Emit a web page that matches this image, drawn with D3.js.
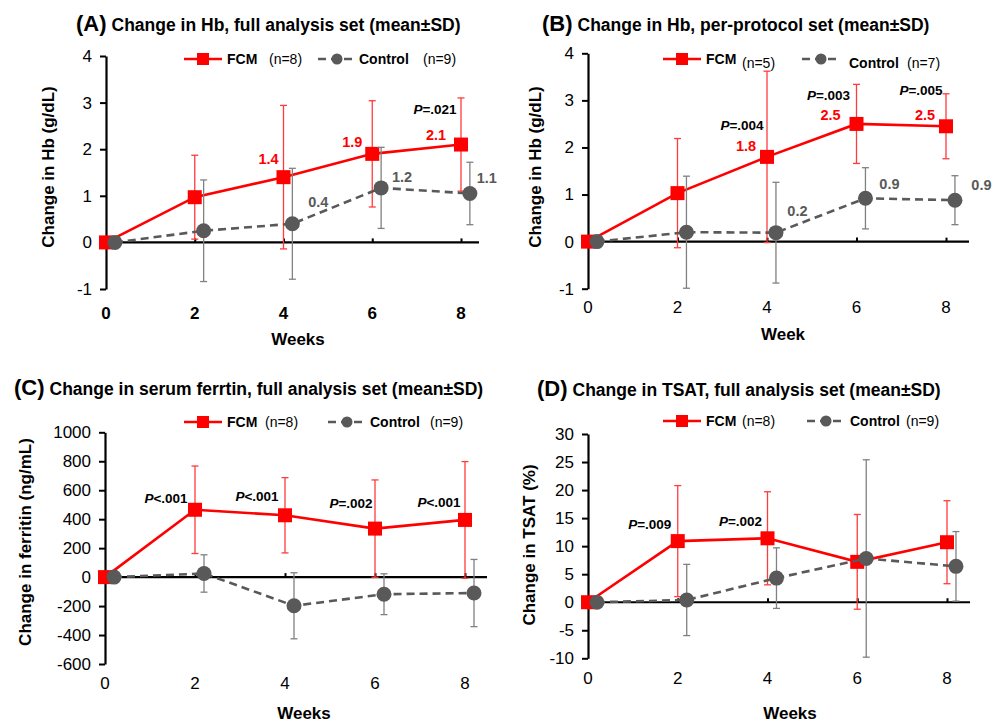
<!DOCTYPE html>
<html><head><meta charset="utf-8">
<script src="https://cdn.jsdelivr.net/npm/d3@7"></script>
<style>
html,body{margin:0;padding:0;background:#fff;}
svg{display:block;font-family:"Liberation Sans",Arial,sans-serif;}
</style></head>
<body>
<svg id="chart" width="997" height="724"></svg>
<script>
// ---------- DATA ----------
const weeks = [0, 2, 4, 6, 8];

// Panel A: Hb, full analysis set
const hbFasFcm     = [0, 0.97, 1.4, 1.9, 2.1];
const hbFasFcmSd   = [0, 0.90, 1.54, 1.14, 1.0];
const hbFasCtl     = [0, 0.25, 0.4, 1.17, 1.05];
const hbFasCtlSd   = [0, 1.09, 1.19, 0.87, 0.67];

// Panel B: Hb, per-protocol set
const hbPpFcm      = [0, 1.03, 1.8, 2.5, 2.45];
const hbPpFcmSd    = [0, 1.16, 1.82, 0.84, 0.69];
const hbPpCtl      = [0, 0.2, 0.19, 0.92, 0.88];
const hbPpCtlSd    = [0, 1.19, 1.07, 0.65, 0.52];

// Panel C: serum ferritin
const ferFcm       = [0, 465, 427, 335, 395];
const ferFcmSd     = [0, 302, 260, 336, 403];
const ferCtl       = [0, 25, -198, -118, -110];
const ferCtlSd     = [0, 129, 228, 141, 232];

// Panel D: TSAT
const tsatFcm      = [0, 10.9, 11.4, 7.2, 10.7];
const tsatFcmSd    = [0, 9.9, 8.3, 8.45, 7.4];
const tsatCtl      = [0, 0.4, 4.3, 7.8, 6.4];
const tsatCtlSd    = [0, 6.35, 5.4, 17.6, 6.2];

// y tick values
const ticksHb   = [-1, 0, 1, 2, 3, 4];
const ticksFer  = [-600, -400, -200, 0, 200, 400, 600, 800, 1000];
const ticksTsat = [-10, -5, 0, 5, 10, 15, 20, 25, 30];

// annotations
const pA = [{w: 8, t: ".021", op: "="}];
const pB = [{w: 4, t: ".004", op: "="}, {w: 6, t: ".003", op: "="}, {w: 8, t: ".005", op: "="}];
const pC = [{w: 2, t: ".001", op: "<"}, {w: 4, t: ".001", op: "<"}, {w: 6, t: ".002", op: "="}, {w: 8, t: ".001", op: "<"}];
const pD = [{w: 2, t: ".009", op: "="}, {w: 4, t: ".002", op: "="}];

const valLabA_fcm = ["1.4", "1.9", "2.1"];   // weeks 4,6,8
const valLabA_ctl = ["0.4", "1.2", "1.1"];
const valLabB_fcm = ["1.8", "2.5", "2.5"];
const valLabB_ctl = ["0.2", "0.9", "0.9"];

// ---------- LAYOUT ----------
const RED = "#ff0000", GRAY = "#595959", GRAYBAR = "#808080", REDBAR = "#ff3b3b";
const svg = d3.select("#chart");

const panels = [
  {id: "A", title: "Change in Hb, full analysis set (mean\u00b1SD)", tx: 76, ty: 31,
   x0: 106, x1: 461, zeroEnd: 479, yTop: 56, yBot: 289, dom: [-1, 4], ticks: ticksHb,
   fcm: hbFasFcm, fcmSd: hbFasFcmSd, ctl: hbFasCtl, ctlSd: hbFasCtlSd,
   ytitle: "Change in Hb (g/dL)", ytx: 48, yty: 167, xtitle: "Weeks", xtx: 298, xty: 345,
   xtickY: 319, xtickBold: true, leg: {y: 59, x: 184, fn: "(n=8)", cx: 318, cn: "(n=9)", fnx: 269, ctx: 359, cnx: 423, cdy: 0}},
  {id: "B", title: "Change in Hb, per-protocol set (mean\u00b1SD)", tx: 542, ty: 31,
   x0: 588, x1: 946, zeroEnd: 969, yTop: 53.3, yBot: 288.7, dom: [-1, 4], ticks: ticksHb,
   fcm: hbPpFcm, fcmSd: hbPpFcmSd, ctl: hbPpCtl, ctlSd: hbPpCtlSd,
   ytitle: "Change in Hb (g/dL)", ytx: 535, yty: 167, xtitle: "Week", xtx: 783, xty: 340,
   xtickY: 313, xtickBold: false, leg: {y: 59, x: 663, fn: "(n=5)", cx: 802, cn: "(n=7)", fnx: 742, ctx: 849, cnx: 907, cdy: 4}},
  {id: "C", title: "Change in serum ferrtin, full analysis set (mean\u00b1SD)", tx: 14, ty: 395,
   x0: 105, x1: 465, zeroEnd: 487, yTop: 432.3, yBot: 664, dom: [-600, 1000], ticks: ticksFer,
   fcm: ferFcm, fcmSd: ferFcmSd, ctl: ferCtl, ctlSd: ferCtlSd,
   ytitle: "Change in ferritin (ng/mL)", ytx: 25, yty: 542, xtitle: "Weeks", xtx: 304, xty: 719,
   xtickY: 689, xtickBold: false, leg: {y: 422, x: 184, fn: "(n=8)", cx: 328, cn: "(n=9)", fnx: 265, ctx: 370, cnx: 430, cdy: 0}},
  {id: "D", title: "Change in TSAT, full analysis set (mean\u00b1SD)", tx: 537, ty: 396,
   x0: 588, x1: 947, zeroEnd: 970, yTop: 434, yBot: 658.3, dom: [-10, 30], ticks: ticksTsat,
   fcm: tsatFcm, fcmSd: tsatFcmSd, ctl: tsatCtl, ctlSd: tsatCtlSd,
   ytitle: "Change in TSAT (%)", ytx: 529, yty: 545, xtitle: "Weeks", xtx: 790, xty: 719,
   xtickY: 684, xtickBold: false, leg: {y: 421, x: 663, fn: "(n=8)", cx: 807, cn: "(n=9)", fnx: 742, ctx: 850, cnx: 906, cdy: 0}}
];

function drawPanel(p) {
  const g = svg.append("g");
  const x = d3.scaleLinear().domain([0, 8]).range([p.x0, p.x1]);
  const y = d3.scaleLinear().domain(p.dom).range([p.yBot, p.yTop]);
  p.x = x; p.y = y;

  // Title
  const t = g.append("text").attr("x", p.tx).attr("y", p.ty).attr("font-weight", "bold").attr("fill", "#000");
  t.append("tspan").attr("font-size", 22).text("(" + p.id + ")");
  t.append("tspan").attr("font-size", 17.5).attr("dx", 5).text(p.title);

  // y axis
  const yAxis = d3.axisLeft(y).tickValues(p.ticks).tickSize(6).tickSizeOuter(0).tickFormat(d => String(d));
  const ya = g.append("g").attr("transform", `translate(${p.x0},0)`).call(yAxis);
  ya.select(".domain").attr("stroke", "#000").attr("stroke-width", 2.2);
  ya.selectAll(".tick line").attr("stroke", "#000").attr("stroke-width", 2);
  ya.selectAll(".tick text").attr("font-size", 17).attr("fill", "#000").attr("x", -14)
    .attr("font-family", "Liberation Sans, Arial, sans-serif");

  // zero line with ticks
  const xa = d3.axisTop(x).tickValues([2, 4, 6, 8]).tickSize(4).tickSizeOuter(0).tickFormat("");
  const xg = g.append("g").attr("transform", `translate(0,${y(0)})`).call(xa);
  xg.select(".domain").remove();
  xg.selectAll(".tick line").attr("stroke", "#000").attr("stroke-width", 2);
  g.append("line").attr("x1", p.x0).attr("x2", p.zeroEnd).attr("y1", y(0)).attr("y2", y(0))
    .attr("stroke", "#000").attr("stroke-width", 2.2);

  // x tick labels
  g.selectAll(".xl").data(weeks).enter().append("text")
    .attr("x", d => x(d)).attr("y", p.xtickY).attr("text-anchor", "middle")
    .attr("font-size", 17).attr("font-weight", p.xtickBold ? "bold" : "normal").text(d => d);

  // axis titles
  g.append("text").attr("transform", `translate(${p.ytx},${p.yty}) rotate(-90)`)
    .attr("text-anchor", "middle").attr("dominant-baseline", "central")
    .attr("font-size", 17).attr("font-weight", "bold").text(p.ytitle);
  g.append("text").attr("x", p.xtx).attr("y", p.xty).attr("text-anchor", "middle")
    .attr("font-size", 17).attr("font-weight", "bold").text(p.xtitle);

  // series
  const series = [
    {v: p.fcm, sd: p.fcmSd, off: 0, col: RED, bar: REDBAR, dash: null, shape: "sq"},
    {v: p.ctl, sd: p.ctlSd, off: 0.2, col: GRAY, bar: GRAYBAR, dash: "8,5", shape: "ci"}
  ];
  series.forEach(s => {
    const pts = weeks.map((w, i) => ({w: w + s.off, v: s.v[i], sd: s.sd[i]}));
    const eb = g.append("g");
    pts.filter(d => d.sd > 0).forEach(d => {
      const xx = x(d.w), yt = y(d.v + d.sd), yb = y(d.v - d.sd);
      eb.append("line").attr("x1", xx).attr("x2", xx).attr("y1", yt).attr("y2", yb).attr("stroke", s.bar).attr("stroke-width", 1.3);
      [yt, yb].forEach(yy => eb.append("line").attr("x1", xx - 3.5).attr("x2", xx + 3.5).attr("y1", yy).attr("y2", yy).attr("stroke", s.bar).attr("stroke-width", 1.3));
    });
    const line = d3.line().x(d => x(d.w)).y(d => y(d.v));
    g.append("path").datum(pts).attr("d", line).attr("fill", "none").attr("stroke", s.col)
      .attr("stroke-width", 2.6).attr("stroke-dasharray", s.dash);
    if (s.shape === "sq") {
      g.selectAll(null).data(pts).enter().append("rect")
        .attr("x", d => x(d.w) - 7).attr("y", d => y(d.v) - 7).attr("width", 14).attr("height", 14).attr("fill", s.col);
    } else {
      g.selectAll(null).data(pts).enter().append("circle")
        .attr("cx", d => x(d.w)).attr("cy", d => y(d.v)).attr("r", 7.5).attr("fill", s.col);
    }
  });

  // legend
  const L = p.leg;
  g.append("line").attr("x1", L.x).attr("x2", L.x + 38).attr("y1", L.y).attr("y2", L.y).attr("stroke", RED).attr("stroke-width", 2.6);
  g.append("rect").attr("x", L.x + 19 - 6).attr("y", L.y - 6).attr("width", 12).attr("height", 12).attr("fill", RED);
  g.append("text").attr("x", L.x + 43).attr("y", L.y + 5).attr("font-size", 14).attr("font-weight", "bold").text("FCM");
  g.append("text").attr("x", L.fnx).attr("y", L.y + 5 + (p.id === "B" ? 4 : 0)).attr("font-size", 14).text(L.fn);
  g.append("line").attr("x1", L.cx).attr("x2", L.cx + 37).attr("y1", L.y).attr("y2", L.y).attr("stroke", GRAY)
    .attr("stroke-width", 2.6).attr("stroke-dasharray", "8,5");
  g.append("circle").attr("cx", L.cx + 19).attr("cy", L.y).attr("r", 5.5).attr("fill", GRAY);
  g.append("text").attr("x", L.ctx).attr("y", L.y + 5 + L.cdy).attr("font-size", 14).attr("font-weight", "bold").text("Control");
  g.append("text").attr("x", L.cnx).attr("y", L.y + 5 + L.cdy).attr("font-size", 14).text(L.cn);
  return g;
}

panels.forEach(drawPanel);

// ---------- annotations ----------
function pLabel(p, list, dx, dy) {
  list.forEach((a, i) => {
    const i0 = weeks.indexOf(a.w);
    const xx = p.x(a.w) + dx[i], yy = p.y(p.fcm[i0]) + dy[i];
    const t = svg.append("text").attr("x", xx).attr("y", yy).attr("text-anchor", "middle")
      .attr("font-size", 13.5).attr("font-weight", "bold").attr("fill", "#000");
    t.append("tspan").attr("font-style", "italic").text("P");
    t.append("tspan").text(a.op + a.t);
  });
}
function valLabel(p, labs, series, off, dx, dy, col) {
  labs.forEach((s, i) => {
    const w = [4, 6, 8][i], i0 = weeks.indexOf(w);
    svg.append("text").attr("x", p.x(w + off) + dx[i]).attr("y", p.y(series[i0]) + dy[i])
      .attr("text-anchor", "middle").attr("font-size", 14.5).attr("font-weight", "bold").attr("fill", col).text(s);
  });
}
const [PA, PB, PC, PD] = panels;
pLabel(PA, pA, [-26], [-31]);
valLabel(PA, valLabA_fcm, PA.fcm, 0, [-15, -20, -25], [-13, -7, -5], RED);
valLabel(PA, valLabA_ctl, PA.ctl, 0.2, [26, 21, 17], [-17, -6, -10], GRAY);
pLabel(PB, pB, [-25, -28, -25], [-26.5, -24, -31.5]);
valLabel(PB, valLabB_fcm, PB.fcm, 0, [-21, -26, -21], [-6, -4, -6.5], RED);
valLabel(PB, valLabB_ctl, PB.ctl, 0.2, [21.5, 24, 26.5], [-17, -9, -10.5], GRAY);
pLabel(PC, pC, [-29, -28, -24, -26], [-6.5, -14, -21, -12.5]);
pLabel(PD, pD, [-28, -27], [-12, -12]);
</script>
</body></html>
